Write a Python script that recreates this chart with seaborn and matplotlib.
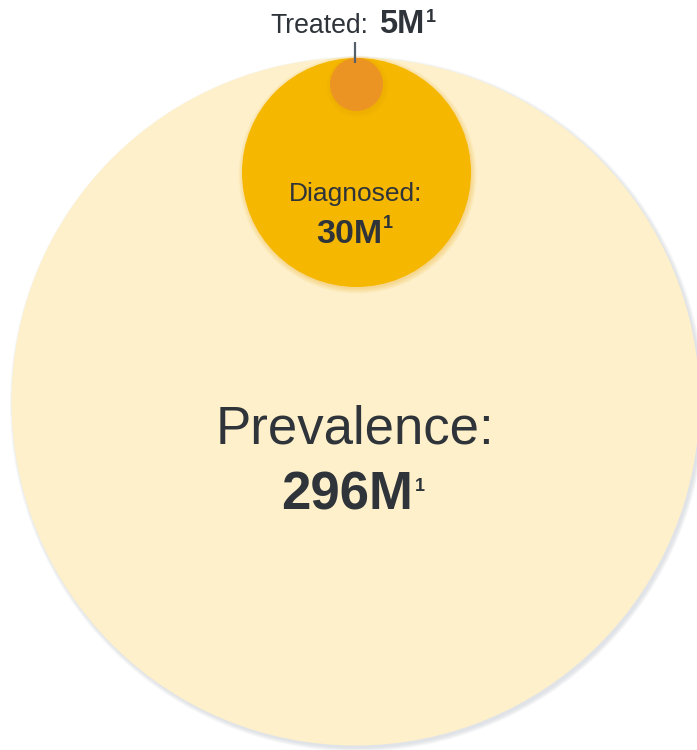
import matplotlib
matplotlib.use("Agg")
import matplotlib.pyplot as plt
import pandas as pd
import seaborn as sns
from matplotlib.patches import Circle

# Patient funnel, millions of people
stages = ["Prevalence", "Diagnosed", "Treated"]
patients_millions = [296, 30, 5]
footnote = "1"

# Layout (pixel units, y grows downwards)
W, H = 697, 750
centers_x = [355.0, 355.5, 355.5]
centers_y = [401.0, 171.5, 83.5]
radii = [344.0, 114.5, 26.5]
fills = {"Prevalence": "#FEF0CA", "Diagnosed": "#F5B700", "Treated": "#EC9423"}
shadow_cols = ["#B9C0C8", "#E8A000", "#E8A010"]
TEXT = "#2E3439"
FONT = "Liberation Sans"

sns.set_theme(style="white")
plt.rcParams["font.family"] = [FONT, "DejaVu Sans"]

fig = plt.figure(figsize=(W / 100, H / 100), dpi=100)
ax = fig.add_axes([0, 0, 1, 1])

df = pd.DataFrame({
    "stage": stages,
    "patients": patients_millions,
    "x": centers_x,
    "y": centers_y,
})

# Soft drop shadows under each disc
for i, r in enumerate(radii):
    cx, cy = centers_x[i], centers_y[i]
    if i == 0:
        dx, dy, steps, alpha = 2.5, 3.0, 5, 0.10
    else:
        dx, dy, steps, alpha = 2.0, 3.0, 6, 0.05
    for k in range(steps):
        ax.add_patch(Circle((cx + dx, cy + dy), r + k * 0.9,
                            facecolor=shadow_cols[i], edgecolor="none",
                            alpha=alpha, zorder=1 + 2 * i))

# Discs: marker diameter in points = 2 r px * 72 / dpi
sizes = {s: (2 * r * 0.72) ** 2 for s, r in zip(stages, radii)}
for i, stage in enumerate(stages):
    sns.scatterplot(data=df[df["stage"] == stage], x="x", y="y",
                    hue="stage", palette=fills, size="stage", sizes=sizes,
                    marker="o", linewidth=0, legend=False, ax=ax,
                    zorder=2 + 2 * i)
ax.set_xlim(0, W)
ax.set_ylim(H, 0)
ax.set_aspect("equal")
ax.axis("off")

renderer = fig.canvas.get_renderer()


def text_line(pieces, cx, baseline, z=10):
    """pieces: (string, size_pt, weight, rise_px, gap_before_px)"""
    objs, widths = [], []
    for s, size, weight, rise, gap in pieces:
        t = ax.text(0, baseline - rise, s, fontsize=size, fontweight=weight,
                    color=TEXT, ha="left", va="baseline", zorder=z,
                    family=[FONT, "DejaVu Sans"])
        bb = t.get_window_extent(renderer=renderer)
        objs.append(t)
        widths.append(bb.width)
    total = sum(widths) + sum(p[4] for p in pieces)
    x = cx - total / 2
    for t, w, p in zip(objs, widths, pieces):
        x += p[4]
        t.set_x(x)
        x += w


def fmt(v):
    return f"{v}M"


# Treated label above the chart with a leader line
text_line([("Treated:", 19.2, "normal", 0, 0),
           (fmt(patients_millions[2]), 23.5, "bold", 0, 11),
           (footnote, 13, "bold", 11, 1)], 353, 33)
ax.plot([355, 355], [42, 63], color="#56606A", lw=1.6, zorder=12,
        solid_capstyle="butt")

# Diagnosed label
text_line([("Diagnosed:", 19, "normal", 0, 0)], 355.5, 201)
text_line([(fmt(patients_millions[1]), 24.5, "bold", 0, 0),
           (footnote, 13, "bold", 15, 1)], 354.5, 243)

# Prevalence label
text_line([("Prevalence:", 38, "normal", 0, 0)], 355, 443)
text_line([(fmt(patients_millions[0]), 38, "bold", 0, 0),
           (footnote, 13, "bold", 19, 1)], 353, 510)

fig.savefig("out.png", dpi=100)
